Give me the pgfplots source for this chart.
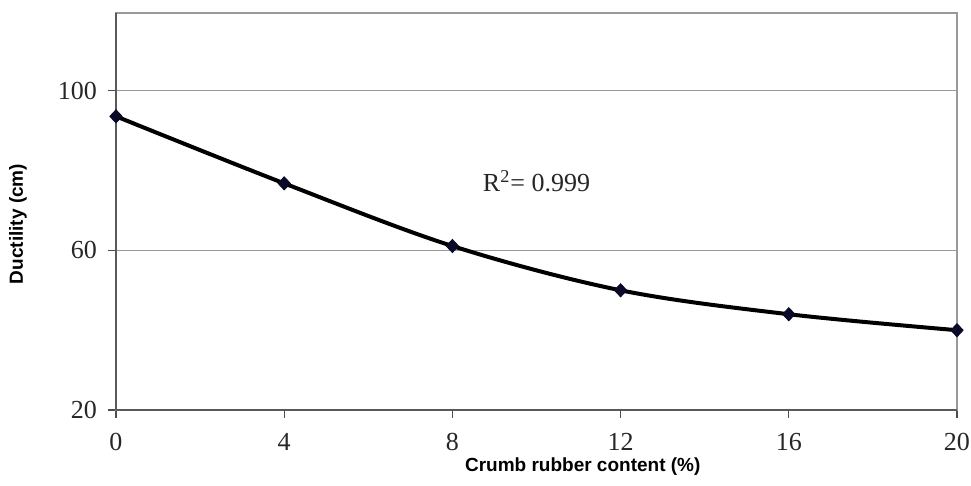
\documentclass[border=0pt]{standalone}
\usepackage{pgfplots}
\pgfplotsset{compat=1.18}
\usepackage{fontspec}
\setmainfont{Liberation Serif}
\newfontfamily\arialfont{Liberation Sans}
\definecolor{mk}{RGB}{10,10,40}
\begin{document}
\begin{tikzpicture}
\path[use as bounding box] (-58pt,-38pt) rectangle (427.5pt,205pt);
\begin{axis}[
  at={(0,0)}, anchor=south west,
  scale only axis,
  width=420.5pt, height=198.5pt,
  xmin=0, xmax=20, ymin=20, ymax=119.5,
  xtick={0,4,8,12,16,20},
  ytick={20,60,100},
  tick align=outside,
  major tick length=4pt,
  tick style={black!70, line width=0.6pt},
  xtick pos=bottom, ytick pos=left,
  ymajorgrids,
  grid style={gray!80, line width=0.6pt},
  axis line style={gray!80, line width=0.6pt},
  /pgf/number format/assume math mode=true,
  ticklabel style={font=\fontsize{13}{15}\selectfont, text=black!85},
  xticklabel style={yshift=-4pt},
  yticklabel style={xshift=-2pt},
  xlabel={\arialfont\bfseries Crumb rubber content (\%)},
  ylabel={\arialfont\bfseries Ductility (cm)},
  label style={font=\fontsize{9.5}{11}\selectfont},
  xlabel style={at={(axis description cs:0.555,-0.1436)}, anchor=center},
  ylabel style={at={(axis description cs:-0.1165,0.4685)}, anchor=center, rotate=0},
  clip=false,
]
\draw[black!65, line width=0.7pt] (rel axis cs:0,0) -- (rel axis cs:1,0);
\draw[black!65, line width=0.7pt] (rel axis cs:0,0) -- (rel axis cs:0,1);
\addplot[black, line width=2pt, smooth, tension=0.55, no marks] coordinates {
  (0,93.6) (4,76.8) (8,61.1) (12,50.0) (16,44.0) (20,40.0)
};
\addplot[only marks, mark=diamond*, mark size=3.3pt, mark options={fill=mk, draw=mk, xscale=1.25}] coordinates {
  (0,93.6) (4,76.8) (8,61.1) (12,50.0) (16,44.0) (20,40.0)
};
\node[font=\fontsize{13}{15}\selectfont, text=black!85, anchor=center] at (axis cs:10.0,77.4) {R\textsuperscript{2}= 0.999};
\end{axis}
\end{tikzpicture}
\end{document}
